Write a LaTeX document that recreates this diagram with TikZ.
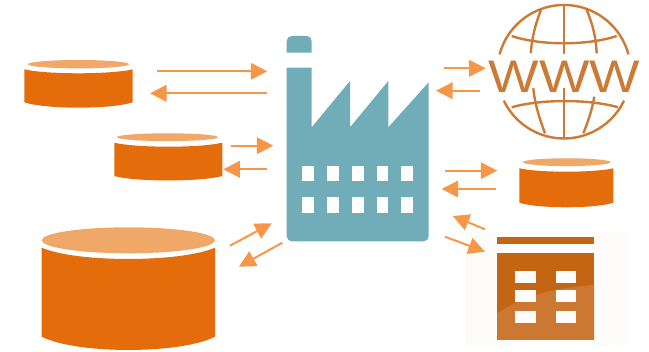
\documentclass[tikz,border=0pt]{standalone}
\usepackage{xcolor}
\usepackage{fontspec}
\setmainfont{Liberation Sans}
\usepackage{tikz}
\usetikzlibrary{arrows.meta}

\definecolor{diskbody}{HTML}{E46C0A}
\definecolor{disktop}{HTML}{F0A868}
\definecolor{flowline}{HTML}{F79646}
\definecolor{plantcol}{HTML}{70ADB8}
\definecolor{globecol}{HTML}{CB7B36}
\definecolor{sheetdark}{HTML}{C46514}
\definecolor{sheetlight}{HTML}{CC7832}
\definecolor{sheetback}{HTML}{FEFCFB}

\begin{document}
\begin{tikzpicture}[
    x=1pt, y=-1pt,
    flow/.style={-{Triangle[length=16.5pt,width=16.5pt]}, line width=2pt, flowline},
    winbox/.style={rectangle, fill=white, inner sep=0pt, minimum width=11.7pt, minimum height=15.8pt},
    cellbox/.style={rectangle, fill=sheetback, inner sep=0pt, minimum width=20.5pt, minimum height=12pt},
    globeline/.style={line width=2.4pt, globecol}
]
\useasboundingbox (0,0) rectangle (649,352);

% Disks
\foreach \xl/\xr/\ts/\tc/\bs/\bb/\el/\er/\ec/\eh in {
    24.3/132.7/69.3/73.3/102.3/107.7/28/129/64.2/4.2,
    114.3/222.3/142.7/146.7/176/180.5/117/218/137.2/3.9,
    41.7/215/247.7/259/336.7/350/41.7/215/240.3/13,
    519.3/613.3/168.3/171.7/202.7/207.3/522.7/610.7/162.2/3.9} {
  \fill[diskbody] (\xl,\ts)
    .. controls ({\xl+.2*(\xr-\xl)},{\ts+1.33*(\tc-\ts)}) and ({\xr-.2*(\xr-\xl)},{\ts+1.33*(\tc-\ts)}) .. (\xr,\ts)
    -- (\xr,\bs)
    .. controls ({\xr-.2*(\xr-\xl)},{\bs+1.33*(\bb-\bs)}) and ({\xl+.2*(\xr-\xl)},{\bs+1.33*(\bb-\bs)}) .. (\xl,\bs)
    -- cycle;
  \fill[disktop] ({(\el+\er)/2},\ec) ellipse [x radius={(\er-\el)/2*1pt}, y radius={\eh*1pt}];
}

% Factory
\fill[plantcol] (286.7,52.7) [rounded corners=5pt] -- (286.7,36) -- (311.7,36) [sharp corners] -- (311.7,52.7) -- cycle;
\fill[plantcol] (286.7,67.7) -- (311.7,67.7) -- (311.7,127.3) -- (350,81) -- (350,127.3) -- (388.3,81) -- (388.3,127.3) -- (428.7,82.3)
    [rounded corners=5pt] -- (428.7,241.3) -- (286.7,241.3) [sharp corners] -- cycle;
\foreach \wx [count=\i] in {308.2,332.9,357.9,382.6,407.2} {
  \node[winbox] (wintop\i) at (\wx,173.5) {};
  \node[winbox] (winlow\i) at (\wx,204.7) {};
}

% Globe
\draw[globeline] (499.6,54.4) arc[start angle=165, end angle=15, radius=66.7pt];
\draw[globeline] (503.8,100.6) arc[start angle=205.6, end angle=334.4, radius=66.7pt];
\draw[globeline] (511.7,36) .. controls (540,45.7) and (588,45.7) .. (616.7,36);
\draw[globeline] (511.7,107.3) .. controls (540,99) and (590,99) .. (618,107.3);
\draw[globeline] (564,5) -- (564,54);
\draw[globeline] (564,88.3) -- (564,138.3);
\draw[globeline] (541,10) .. controls (535,25) and (532,38) .. (530.7,53.3);
\draw[globeline] (586.7,10) .. controls (593,25) and (596,38) .. (596.7,53.3);
\draw[globeline] (533.3,88.3) .. controls (535,105) and (540,120) .. (545,133.3);
\draw[globeline] (594.3,96.7) .. controls (592,110) and (588,122) .. (583.3,133.3);
\node[inner sep=0pt, xscale=1.17, transform shape, text=globecol, font=\fontsize{45.7}{46}\selectfont] (www) at (564.5,76.3) {WWW};

% Sheet
\fill[sheetback] (465,231.7) rectangle (626.7,345);
\fill[sheetdark] (497.3,237.3) rectangle (594,244);
\fill[sheetdark] (497.3,253.3) rectangle (594,340);
\fill[sheetlight] (497.3,313.3) .. controls (520,298) and (550,288) .. (594,285) -- (594,340) -- (497.3,340) -- cycle;
\foreach \cy [count=\j] in {276.7,296.2,316.7} {
  \node[cellbox] (cellleft\j) at (525.3,\cy) {};
  \node[cellbox] (cellright\j) at (565.8,\cy) {};
}

% Arrow ends
\coordinate (inA) at (156.7,71.3);   \coordinate (inAend) at (267.3,71.3);
\coordinate (outA) at (267.3,93.3);  \coordinate (outAend) at (150,93.3);
\coordinate (inB) at (230.7,145.7);  \coordinate (inBend) at (273.3,145.7);
\coordinate (outB) at (267.3,169.3); \coordinate (outBend) at (223.3,169.3);
\coordinate (inC) at (230,245.7);    \coordinate (inCend) at (271.7,223.3);
\coordinate (outC) at (282.3,242.7); \coordinate (outCend) at (239,266.7);
\coordinate (webOut) at (444,68.3);  \coordinate (webOutend) at (485.7,68.3);
\coordinate (webIn) at (480,90.7);   \coordinate (webInend) at (436,90.7);
\coordinate (outD) at (445,170.7);   \coordinate (outDend) at (497.3,170.7);
\coordinate (inD) at (495.7,189);    \coordinate (inDend) at (441.7,189);
\coordinate (sheetIn) at (485,229.3);   \coordinate (sheetInend) at (452.7,216);
\coordinate (sheetOut) at (445,236.7);  \coordinate (sheetOutend) at (485,251.7);

% Arrows
\draw[flow] (inA) -- (inAend);
\draw[flow] (outA) -- (outAend);
\draw[flow] (inB) -- (inBend);
\draw[flow] (outB) -- (outBend);
\draw[flow] (inC) -- (inCend);
\draw[flow] (outC) -- (outCend);
\draw[flow] (webOut) -- (webOutend);
\draw[flow] (webIn) -- (webInend);
\draw[flow] (outD) -- (outDend);
\draw[flow] (inD) -- (inDend);
\draw[flow] (sheetIn) -- (sheetInend);
\draw[flow] (sheetOut) -- (sheetOutend);

\end{tikzpicture}
\end{document}
